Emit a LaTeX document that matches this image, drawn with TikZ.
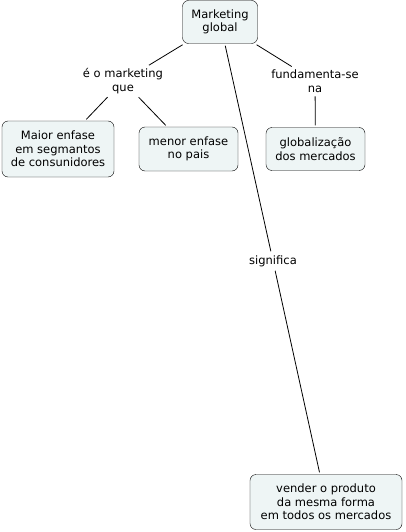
\documentclass[tikz,border=0pt]{standalone}
\usepackage{fontspec}
\setmainfont{DejaVu Sans}
\begin{document}
\begin{tikzpicture}[x=1pt,y=-1pt,
  concept/.style={draw=black, fill=conceptfill, rounded corners=6pt, align=center, font=\fontsize{11.5}{13.5}\selectfont, inner sep=0pt},
  linkphrase/.style={align=center, font=\fontsize{11.5}{13.5}\selectfont, inner sep=2pt},
  conn/.style={draw=black, line width=0.8pt, shorten <=2pt, shorten >=2pt}]
\definecolor{conceptfill}{RGB}{238,245,245}
\useasboundingbox (0,0) rectangle (405,532);
\node[concept, minimum width=75pt, minimum height=43pt] (mg) at (220,22) {Marketing\\global};
\node[concept, minimum width=112pt, minimum height=56pt] (maior) at (58,149) {Maior enfase\\em segmantos\\de consunidores};
\node[concept, minimum width=99pt, minimum height=44pt] (menor) at (188.5,149) {menor enfase\\no pais};
\node[concept, minimum width=99pt, minimum height=43pt] (glob) at (315.5,149) {globalização\\dos mercados};
\node[concept, minimum width=152pt, minimum height=55pt] (vender) at (326,502) {vender o produto\\da mesma forma\\em todos os mercados};
\node[linkphrase] (l1) at (123,81) {é o marketing\\que};
\node[linkphrase] (l2) at (315,81) {fundamenta-se\\na};
\node[linkphrase] (l3) at (273,261) {significa};
\draw[conn] (mg) -- (l1);
\draw[conn] (l1) -- (maior);
\draw[conn] (l1) -- (menor);
\draw[conn] (mg) -- (l2);
\draw[conn] (l2) -- (glob);
\draw[conn] (mg) -- (l3);
\draw[conn] (l3) -- (vender);
\end{tikzpicture}
\end{document}
